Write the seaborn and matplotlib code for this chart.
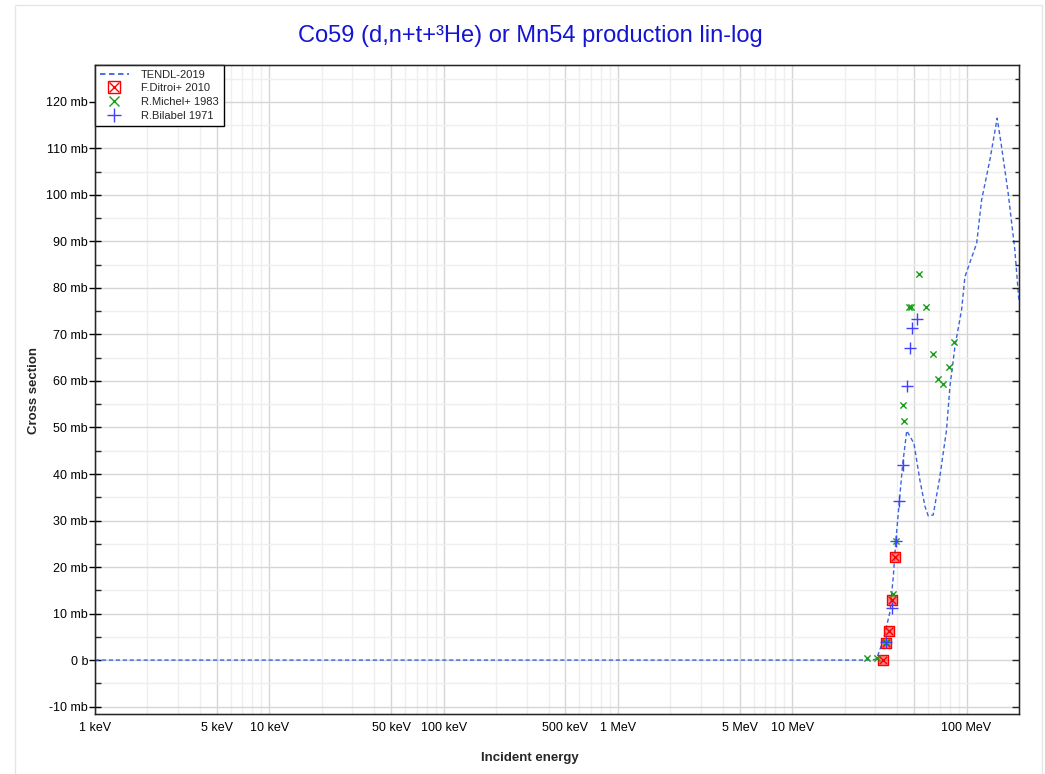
import numpy as np
import pandas as pd
import matplotlib
matplotlib.use("Agg")
import matplotlib.pyplot as plt
import matplotlib.ticker as mticker
from matplotlib.lines import Line2D
from matplotlib.patches import Rectangle
from matplotlib.legend_handler import HandlerTuple
import seaborn as sns

# ---------------- data (energies in MeV, cross sections in mb) ----------------
tendl_E = [1e-3, 29.0, 30.5, 33.3, 36.4, 38.0, 39.3, 41.2, 43.0, 45.4, 49.9, 54.0,
           57.8, 60.3, 64.4, 70.3, 76.8, 80.3, 85.8, 93.7, 97.9, 102.4, 114.3,
           122.0, 136.1, 149.9, 158.8, 173.3, 189.3, 200.0]
tendl_xs = [0.0, 0.0, 0.3, 4.3, 10.4, 17.9, 25.6, 34.3, 42.0, 49.3, 46.6, 38.7,
            33.0, 31.0, 31.2, 39.4, 49.5, 58.8, 67.4, 75.3, 82.4, 84.5, 89.6,
            98.9, 107.5, 116.5, 110.4, 100.4, 88.2, 77.0]

ditroi_E = [33.0, 34.7, 36.0, 37.5, 38.8]
ditroi_xs = [0.1, 3.6, 6.2, 13.0, 22.1]

michel_E = [27.0, 30.5, 34.7, 37.7, 39.3, 43.4, 43.8, 46.9, 48.2, 53.3, 58.3,
            63.9, 68.8, 73.5, 78.9, 84.6]
michel_xs = [0.4, 0.5, 3.9, 14.1, 25.5, 54.8, 51.4, 75.8, 75.9, 83.1, 75.9,
             65.7, 60.4, 59.4, 63.0, 68.3]

bilabel_E = [34.7, 37.5, 39.2, 41.2, 43.0, 45.4, 47.2, 48.9, 52.2]
bilabel_xs = [3.8, 11.2, 25.6, 34.3, 42.0, 58.9, 67.0, 71.3, 73.3]

x_major = [1e-3, 5e-3, 1e-2, 5e-2, 1e-1, 5e-1, 1, 5, 10, 50, 100]
x_labels = ["1 keV", "5 keV", "10 keV", "50 keV", "100 keV", "500 keV",
            "1 MeV", "5 MeV", "10 MeV", "", "100 MeV"]

title = "Co59 (d,n+t+³He) or Mn54 production lin-log"
series_names = ["TENDL-2019", "F.Ditroi+ 2010", "R.Michel+ 1983", "R.Bilabel 1971"]

# ---------------- style ----------------
sns.set_style("white")
plt.rcParams["font.family"] = ["Liberation Sans", "DejaVu Sans"]

c_tendl = "#3a63e0"
c_red = "#ff0000"
c_green = "#1a9e1a"
c_blue = "#4040ff"

fig = plt.figure(figsize=(10.45, 7.74), dpi=100)
ax = fig.add_axes([95 / 1045, 1 - 714 / 774, (1019 - 95) / 1045, (714 - 64.7) / 774])

tendl = pd.DataFrame({"E": tendl_E, "xs": tendl_xs})
sns.lineplot(data=tendl, x="E", y="xs", ax=ax, color=c_tendl, lw=1.0,
             linestyle=(0, (3, 2)), sort=False, estimator=None, zorder=3)

sns.scatterplot(x=ditroi_E, y=ditroi_xs, ax=ax, marker="s", s=55,
                facecolor=(1, 0.2, 0.2, 0.6), edgecolor=c_red, linewidth=1.0, zorder=4)
sns.scatterplot(x=ditroi_E, y=ditroi_xs, ax=ax, marker="x", s=28,
                color=c_red, linewidth=1.0, zorder=5)
sns.scatterplot(x=michel_E, y=michel_xs, ax=ax, marker="x", s=20,
                color=c_green, linewidth=1.0, zorder=5)
sns.scatterplot(x=bilabel_E, y=bilabel_xs, ax=ax, marker="+", s=70,
                color=c_blue, linewidth=1.0, zorder=5)

ax.set_xscale("log")
ax.set_xlim(1e-3, 200)
ax.set_ylim(-11.6, 128)

ax.xaxis.set_major_locator(mticker.FixedLocator(x_major))
ax.xaxis.set_major_formatter(mticker.FixedFormatter(x_labels))
x_minor = [m * 10.0 ** d for d in range(-3, 3) for m in (2, 3, 4, 6, 7, 8, 9)
           if m * 10.0 ** d < 200]
ax.xaxis.set_minor_locator(mticker.FixedLocator(x_minor))
ax.xaxis.set_minor_formatter(mticker.NullFormatter())

ax.yaxis.set_major_locator(mticker.MultipleLocator(10))
ax.yaxis.set_minor_locator(mticker.MultipleLocator(5))
ax.yaxis.set_major_formatter(mticker.FuncFormatter(
    lambda v, p: "0 b" if abs(v) < 1e-9 else f"{v:g} mb"))

ax.grid(which="major", color="#d6d6d6", lw=1.0, zorder=0)
ax.grid(which="minor", color="#efefef", lw=1.0, zorder=0)
ax.set_axisbelow(True)

ax.tick_params(axis="both", which="major", direction="inout", length=8, width=1,
               labelsize=9, colors="black", pad=2)
ax.tick_params(axis="y", which="major", pad=1)
ax.tick_params(axis="both", which="minor", direction="in", length=4, width=1)
ax.tick_params(top=False, right=False, which="both")
for s in ax.spines.values():
    s.set_color("black")
    s.set_linewidth(1.0)

ax2 = ax.twinx()
ax2.set_ylim(ax.get_ylim())
ax2.yaxis.set_major_locator(mticker.MultipleLocator(10))
ax2.yaxis.set_minor_locator(mticker.MultipleLocator(5))
ax2.tick_params(axis="y", which="major", direction="in", length=5, width=1, labelright=False)
ax2.tick_params(axis="y", which="minor", direction="in", length=3, width=1)
ax2.grid(False)

ax.set_xlabel("")
ax.set_ylabel("")

handles = [
    Line2D([], [], color=c_tendl, ls=(0, (3, 2)), lw=1.3),
    (Line2D([], [], marker="s", mfc="white", mec=c_red, ls="", ms=9, mew=1.0),
     Line2D([], [], marker="x", color=c_red, ls="", ms=7, mew=1.0)),
    Line2D([], [], marker="x", color=c_green, ls="", ms=7, mew=1.0),
    Line2D([], [], marker="+", color=c_blue, ls="", ms=10, mew=1.0),
]
leg = ax.legend(handles, series_names, loc="upper left", bbox_to_anchor=(0, 1),
                borderaxespad=0, frameon=True, fancybox=False, framealpha=1,
                edgecolor="black", fontsize=8, handlelength=2.6,
                handletextpad=1.1, borderpad=0.45, labelspacing=0.33,
                handler_map={tuple: HandlerTuple(ndivide=1)})
leg.get_frame().set_linewidth(1.0)
leg.set_zorder(10)

fig.text(530 / 1045, 1 - 42.3 / 774, title, ha="center", va="baseline",
         fontsize=17, color="#1414d2")
fig.text(530 / 1045, 1 - 758 / 774, "Incident energy", ha="center", va="center",
         fontsize=9.5, fontweight="bold")
fig.text(34 / 1045, 1 - 390 / 774, "Cross section", ha="center", va="center",
         rotation=90, fontsize=9.5, fontweight="bold")

fig.patches.append(Rectangle((15 / 1045, -0.1), (1042 - 15) / 1045, 1.1 - 5 / 774,
                             transform=fig.transFigure, fill=False,
                             edgecolor="#e6e6e6", lw=1.0))

fig.savefig("out.png", dpi=100)
